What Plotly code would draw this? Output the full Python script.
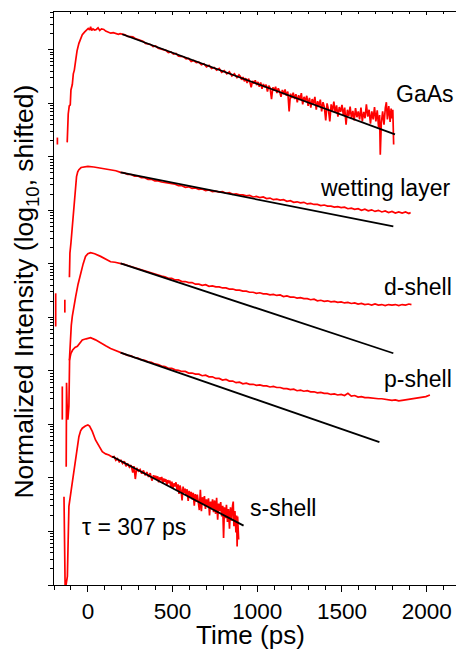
import plotly.graph_objects as go

# ---------------- data (time in ps, log10 of shifted normalized intensity) ----------------
gaas_t = [-180, -180, None,
          -122, -120, -116, -110, -104, -100, -92, -86, -80, -72, -64, -53, -43, -33, -20, -8, 2, 10, 16, 22, 30, 40, 50, 60, 70, 80, 94, 105, 115, 125, 135, 150, 165, 180, 190,
          203, 220, 235, 250, 265, 280, 295, 310, 325, 340, 355, 370, 385, 400, 415, 430, 445, 460, 475, 490, 505, 520, 535, 550, 565, 580, 595, 610, 625, 640, 655, 670, 685, 700,
          715, 730, 745, 760, 775, 790, 805, 820, 835, 850, 865, 880, 892,
          900, 908, 916, 924, 932, 940, 948, 956, 964, 972, 980, 988, 996,
          1004, 1012, 1020, 1028, 1036, 1044, 1052, 1060, 1068, 1076, 1084, 1092, 1100,
          1108, 1116, 1124, 1132, 1140, 1148, 1156, 1164, 1172, 1180, 1188, 1196, 1204,
          1212, 1220, 1228, 1236, 1244, 1252, 1260, 1268, 1276, 1284, 1292, 1300,
          1308, 1316, 1324, 1332, 1340, 1348, 1356, 1364, 1372, 1380, 1388, 1396, 1404,
          1412, 1420, 1428, 1436, 1444, 1452, 1460, 1468, 1476, 1484, 1492, 1500,
          1508, 1516, 1524, 1532, 1540, 1548, 1556, 1564, 1572, 1580, 1588, 1596,
          1604, 1612, 1620, 1628, 1636, 1644, 1652, 1660, 1668, 1676, 1684, 1692, 1700,
          1708, 1716, 1722, 1726, 1732, 1740, 1748, 1756, 1762, 1768, 1776, 1784, 1790, 1796, 1800, 1805]
gaas_logI = [8.36, 8.23, None,
             8.27, 8.55, 8.80, 8.95, 8.97, 9.25, 9.35, 9.55, 9.62, 9.80, 9.98, 10.12, 10.22, 10.28, 10.33, 10.36, 10.40, 10.37, 10.43, 10.36, 10.39, 10.37, 10.38, 10.41, 10.36, 10.39, 10.38, 10.35, 10.34, 10.32, 10.31, 10.32, 10.30, 10.29, 10.30,
             10.29, 10.28, 10.25, 10.24, 10.24, 10.21, 10.19, 10.18, 10.16, 10.12, 10.11, 10.10, 10.06, 10.07, 10.03, 10.02, 10.00, 9.99, 9.95, 9.96, 9.92, 9.93, 9.88, 9.87, 9.87, 9.83, 9.84, 9.78, 9.80, 9.76, 9.77, 9.72, 9.74, 9.68,
             9.71, 9.65, 9.67, 9.62, 9.65, 9.58, 9.61, 9.55, 9.59, 9.51, 9.55, 9.48, 9.53,
             9.50, 9.44, 9.49, 9.41, 9.47, 9.38, 9.46, 9.40, 9.30, 9.42, 9.37, 9.43, 9.34,
             9.40, 9.31, 9.39, 9.27, 9.36, 9.30, 9.35, 9.22, 9.33, 9.28, 9.08, 9.30, 9.24,
             9.31, 9.19, 9.28, 9.22, 9.12, 9.25, 9.17, 9.26, 9.14, 9.22, 8.85, 9.18, 9.10,
             9.20, 9.08, 9.17, 9.02, 9.15, 9.06, 9.19, 8.98, 9.12, 9.04, 9.14, 8.95,
             9.10, 8.92, 9.08, 8.99, 9.12, 8.88, 9.04, 8.95, 9.07, 8.85, 9.02, 8.93, 8.68,
             9.00, 8.88, 8.66, 8.98, 8.86, 9.03, 8.82, 8.96, 8.75, 8.93, 8.84, 8.97,
             8.78, 8.92, 8.60, 8.88, 8.76, 8.94, 8.72, 8.86, 8.68, 8.91, 8.74, 8.85,
             8.70, 8.92, 8.66, 8.84, 8.72, 8.98, 8.75, 8.88, 8.62, 8.85, 8.70, 8.93, 8.66,
             8.87, 8.55, 8.78, 8.04, 8.62, 8.85, 8.60, 8.92, 9.02, 8.70, 8.95, 8.65, 8.90, 8.72, 8.88, 8.23]

wet_t = [-109, -106, -100, -96, -90, -84, -78, -72, -67, -60, -53, -40, -24, 0, 35, 80, 134, 165,
         193, 215, 235, 255, 275, 295, 315, 335, 355, 375, 395, 415, 435, 455, 475, 495, 515, 535, 555, 575, 595, 615, 635, 655, 675, 695, 715, 735, 755, 775, 795, 815, 835,
         855, 875, 895, 915, 935, 955, 975, 995, 1015, 1035, 1055, 1075, 1095, 1115, 1135, 1155, 1175, 1195, 1215, 1235, 1255, 1275, 1295, 1315, 1335, 1355, 1375, 1395, 1415,
         1435, 1455, 1475, 1495, 1515, 1535, 1555, 1575, 1595, 1615, 1635, 1655, 1675, 1695, 1715, 1735, 1755, 1775, 1795, 1815, 1835, 1855, 1875, 1895, 1905]
wet_logI = [5.75, 6.20, 6.39, 6.55, 6.82, 7.10, 7.33, 7.52, 7.63, 7.72, 7.76, 7.80, 7.81, 7.82, 7.81, 7.79, 7.76, 7.74,
            7.71, 7.70, 7.67, 7.67, 7.64, 7.64, 7.61, 7.61, 7.58, 7.58, 7.55, 7.55, 7.53, 7.52, 7.51, 7.49, 7.49, 7.46, 7.46, 7.43, 7.44, 7.41, 7.42, 7.39, 7.40, 7.37, 7.38, 7.35, 7.36, 7.34, 7.35, 7.32, 7.33,
            7.30, 7.31, 7.29, 7.29, 7.27, 7.28, 7.25, 7.26, 7.24, 7.25, 7.22, 7.23, 7.20, 7.21, 7.19, 7.20, 7.17, 7.18, 7.15, 7.16, 7.14, 7.15, 7.12, 7.13, 7.11, 7.11, 7.09, 7.10, 7.08,
            7.08, 7.06, 7.07, 7.05, 7.06, 7.03, 7.04, 7.02, 7.03, 7.00, 7.02, 6.99, 7.01, 6.98, 7.00, 6.97, 6.99, 6.96, 6.98, 6.95, 6.97, 6.95, 6.97, 6.94, 6.96]

d_t = [-190, -190, None, -136, -136, None,
       -109, -104, -98, -92, -82, -72, -58, -43, -28, -14, 0, 16, 40, 75, 110, 134, 160,
       193, 215, 235, 255, 275, 295, 315, 335, 355, 375, 395, 415, 435, 455, 475, 495, 515, 535, 555, 575, 595, 615, 635, 655, 675, 695, 715, 735, 755, 775, 795, 815, 835,
       855, 875, 895, 915, 935, 955, 975, 995, 1015, 1035, 1055, 1075, 1095, 1115, 1135, 1155, 1175, 1195, 1215, 1235, 1255, 1275, 1295, 1315, 1335, 1355, 1375, 1395, 1415,
       1435, 1455, 1475, 1495, 1515, 1535, 1555, 1575, 1595, 1615, 1635, 1655, 1675, 1695, 1715, 1735, 1755, 1775, 1795, 1815, 1835, 1855, 1875, 1895, 1910]
d_logI = [5.45, 4.83, None, 5.33, 5.09, None,
          4.20, 4.60, 4.85, 5.02, 5.25, 5.39, 5.62, 5.83, 6.00, 6.14, 6.19, 6.21, 6.19, 6.14, 6.08, 6.04, 6.03,
          6.01, 5.99, 5.97, 5.95, 5.93, 5.90, 5.89, 5.86, 5.85, 5.82, 5.81, 5.79, 5.77, 5.76, 5.73, 5.73, 5.70, 5.70, 5.67, 5.67, 5.65, 5.65, 5.62, 5.62, 5.60, 5.61, 5.58, 5.59, 5.57, 5.57, 5.55, 5.55, 5.53,
          5.53, 5.51, 5.51, 5.49, 5.49, 5.47, 5.47, 5.45, 5.46, 5.44, 5.44, 5.42, 5.43, 5.41, 5.42, 5.39, 5.40, 5.38, 5.38, 5.36, 5.37, 5.35, 5.35, 5.33, 5.34, 5.31, 5.32, 5.30, 5.31,
          5.29, 5.30, 5.28, 5.29, 5.27, 5.28, 5.26, 5.27, 5.25, 5.26, 5.24, 5.25, 5.23, 5.25, 5.23, 5.24, 5.22, 5.24, 5.23, 5.24, 5.22, 5.24, 5.23, 5.25, 5.24]

p_t = [-151, -151, None,
       -128, -127, -126, -123, -118, -112, -108, -100, -90, -76, -62, -45, -33, -10, 16, 45, 75, 105, 134, 165,
       193, 215, 235, 255, 275, 295, 315, 335, 355, 375, 395, 415, 435, 455, 475, 495, 515, 535, 555, 575, 595, 615, 635, 655, 675, 695, 715, 735, 755, 775, 795, 815, 835,
       855, 875, 895, 915, 935, 955, 975, 995, 1015, 1035, 1055, 1075, 1095, 1115, 1135, 1155, 1175, 1195, 1215, 1235, 1255, 1275, 1295, 1315, 1335, 1355, 1375, 1395, 1415,
       1435, 1455, 1475, 1495, 1515, 1535, 1555, 1575, 1595, 1615, 1635, 1655, 1675, 1695, 1715, 1735, 1755, 1775, 1795, 1815, 1835, 1855, 1875, 1895, 1915, 1935,
       1955, 1975, 1995, 2019]
p_logI = [3.71, 3.09, None,
          2.21, 3.00, 3.78, 3.40, 3.09, 3.34, 4.21, 4.33, 4.39, 4.44, 4.46, 4.53, 4.58, 4.60, 4.62, 4.58, 4.52, 4.47, 4.42, 4.38,
          4.34, 4.32, 4.29, 4.28, 4.25, 4.24, 4.21, 4.20, 4.17, 4.16, 4.13, 4.12, 4.09, 4.08, 4.05, 4.05, 4.02, 4.01, 3.99, 3.99, 3.96, 3.96, 3.94, 3.94, 3.91, 3.92, 3.89, 3.89, 3.86, 3.86, 3.83, 3.84, 3.81,
          3.81, 3.78, 3.79, 3.76, 3.77, 3.75, 3.75, 3.73, 3.74, 3.72, 3.72, 3.70, 3.71, 3.69, 3.69, 3.67, 3.67, 3.65, 3.66, 3.63, 3.64, 3.62, 3.63, 3.61, 3.61, 3.59, 3.60, 3.58, 3.58,
          3.56, 3.57, 3.55, 3.56, 3.54, 3.58, 3.53, 3.54, 3.51, 3.52, 3.50, 3.50, 3.49, 3.49, 3.48, 3.48, 3.47, 3.47, 3.45, 3.46, 3.44, 3.45, 3.46, 3.46, 3.48, 3.48,
          3.50, 3.50, 3.52, 3.55]

s_t = [-141, -134, -121, -112, -98, -86, -72, -62, -53, -43, -33, -15, 0, 10, 26, 45, 65, 85, 105, 124,
       144, 155, 165, 175, 185, 195, 205, 215, 225, 235, 245, 255, 265, 272, 280, 288, 298, 308, 318, 328, 338, 348, 358, 368, 378, 388, 394,
       400, 406, 412, 418, 424, 430, 436, 442, 448, 454, 460, 466, 472, 478, 484, 490, 496, 502, 508, 514, 520, 526, 532, 538, 544, 550,
       556, 562, 568, 574, 580, 586, 592, 598, 604, 610, 616, 622, 628, 634, 640, 646, 652, 658, 664, 670, 676, 682, 688, 694, 700,
       706, 712, 718, 724, 730, 736, 742, 748, 754, 760, 766, 772, 778, 784, 790, 796, 801, 806, 812, 818, 824, 830, 836, 842, 848,
       854, 858, 862, 868, 874, 878, 881, 884, 887, 890]
s_logI = [1.65, -0.10, 0.16, 1.47, 1.78, 2.03, 2.40, 2.62, 2.77, 2.88, 2.93, 2.97, 2.99, 2.97, 2.87, 2.71, 2.59, 2.49, 2.45, 2.43,
          2.39, 2.40, 2.33, 2.36, 2.30, 2.33, 2.27, 2.31, 2.22, 2.27, 2.20, 2.24, 2.10, 2.22, 1.98, 2.19, 2.13, 2.16, 2.08, 2.14, 2.05, 2.11, 2.02, 2.09, 1.95, 2.05, 1.99,
          2.04, 1.97, 2.03, 1.92, 2.01, 1.96, 2.02, 1.90, 1.99, 1.93, 1.98, 1.86, 1.96, 1.90, 1.95, 1.83, 1.93, 1.80, 1.90, 1.84, 1.92, 1.78, 1.88, 1.70, 1.86, 1.77,
          1.58, 1.84, 1.72, 1.80, 1.68, 1.79, 1.57, 1.76, 1.63, 1.74, 1.60, 1.72, 1.48, 1.70, 1.56, 1.69, 1.52, 1.40, 1.78, 1.38, 1.64, 1.50, 1.66, 1.42, 1.60,
          1.47, 1.62, 1.30, 1.56, 1.44, 1.60, 1.36, 1.58, 1.33, 1.63, 1.22, 1.52, 1.38, 1.55, 1.28, 1.48, 0.88, 1.45, 1.25, 1.50, 1.18, 1.42, 1.05, 1.45, 1.20,
          1.48, 1.56, 1.10, 1.38, 0.98, 1.30, 0.72, 1.28, 1.05, 0.85]

# fitted single-exponential lines (start/end only)
fit_t = {"GaAs": [203, 1813], "wetting layer": [193, 1803], "d-shell": [193, 1803], "p-shell": [193, 1721], "s-shell": [144, 919]}
fit_logI = {"GaAs": [10.29, 8.42], "wetting layer": [7.71, 6.70], "d-shell": [6.01, 4.33], "p-shell": [4.34, 2.67], "s-shell": [2.40, 1.11]}

# curve labels: text, x (ps), log10 y
label_text = ["GaAs", "wetting layer", "d-shell", "p-shell", "s-shell", "τ = 307 ps"]
label_t = [1805, 1358, 1738, 1738, 946, -44]
label_logI = [9.18, 7.42, 5.57, 3.85, 1.44, 1.09]

x_ticks = [0, 500, 1000, 1500, 2000]

# ---------------- figure ----------------
def to_lin(vals):
    return [None if v is None else 10 ** v for v in vals]

FONT = "Liberation Sans, Arial, sans-serif"
fig = go.Figure()
for t, l in [(gaas_t, gaas_logI), (wet_t, wet_logI), (d_t, d_logI), (p_t, p_logI), (s_t, s_logI)]:
    fig.add_trace(go.Scatter(x=t, y=to_lin(l), mode="lines", line=dict(color="#ff0000", width=1.7),
                             showlegend=False, hoverinfo="skip"))
for k in fit_t:
    fig.add_trace(go.Scatter(x=fit_t[k], y=to_lin(fit_logI[k]), mode="lines",
                             line=dict(color="black", width=1.8), showlegend=False, hoverinfo="skip"))
# dummy trace for top axis
fig.add_trace(go.Scatter(x=[0], y=[1], xaxis="x2", yaxis="y", mode="markers", opacity=0,
                         showlegend=False, hoverinfo="skip"))

for txt, t, l in zip(label_text, label_t, label_logI):
    fig.add_annotation(x=t, y=l, text=txt, showarrow=False, xanchor="left", yanchor="middle",
                       font=dict(family=FONT, size=23, color="black"))

fig.add_annotation(xref="paper", yref="paper", x=0.49, y=0, yshift=-50, text="Time (ps)", showarrow=False,
                   xanchor="center", yanchor="middle", font=dict(family=FONT, size=26, color="black"))
fig.add_annotation(xref="paper", yref="paper", x=0, xshift=-28, y=0.512, text="Normalized Intensity (log<sub>10</sub>, shifted)",
                   textangle=-90, showarrow=False, xanchor="center", yanchor="middle",
                   font=dict(family=FONT, size=26.5, color="black"))

fig.update_layout(
    width=456, height=650, autosize=False,
    margin=dict(l=54, r=0, t=12, b=65),
    paper_bgcolor="white", plot_bgcolor="white",
    font=dict(family=FONT, color="black"),
    xaxis=dict(range=[-200, 2173], tick0=0, dtick=500, ticks="outside", ticklen=6, tickwidth=1,
               tickcolor="black", showline=True, linecolor="black", linewidth=1, showgrid=False,
               zeroline=False, tickfont=dict(size=22.5, family=FONT),
               minor=dict(dtick=100, ticks="outside", ticklen=4, tickcolor="black", showgrid=False)),
    xaxis2=dict(overlaying="x", matches="x", side="top", tick0=0, dtick=500, ticks="inside", ticklen=3,
                tickcolor="black", showline=True, linecolor="black", linewidth=1, showgrid=False,
                zeroline=False, showticklabels=False,
                minor=dict(dtick=100, ticks="inside", ticklen=2, tickcolor="black", showgrid=False)),
    yaxis=dict(type="log", range=[0, 10.706], dtick=1, ticks="outside", ticklen=5, tickwidth=1,
               tickcolor="black", showline=True, linecolor="black", linewidth=1, showgrid=False,
               zeroline=False, showticklabels=False,
               minor=dict(ticks="outside", ticklen=3, tickcolor="black", showgrid=False)),
)

# remove the default 8px page margin so the 456x650 figure fills the window exactly
fig.write_html("out.html", config={"displayModeBar": False},
               post_script="document.body.style.margin='0';document.body.style.overflow='hidden';")
